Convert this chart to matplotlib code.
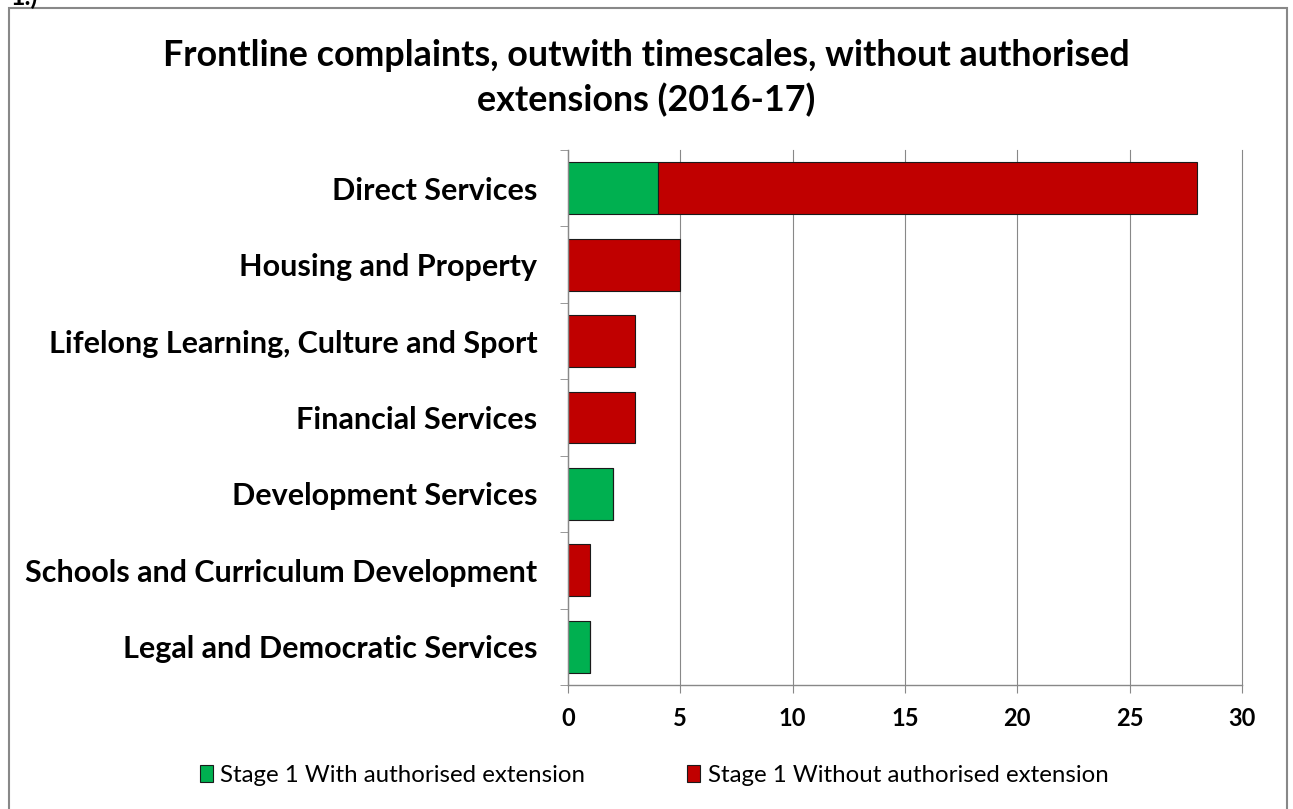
import matplotlib
matplotlib.use("Agg")
import matplotlib.pyplot as plt
from matplotlib.patches import Rectangle
import numpy as np

categories = ["Direct Services", "Housing and Property", "Lifelong Learning, Culture and Sport",
              "Financial Services", "Development Services", "Schools and Curriculum Development",
              "Legal and Democratic Services"]
with_ext = [4, 0, 0, 0, 2, 0, 1]
without_ext = [24, 5, 3, 3, 0, 1, 0]
series_names = ["Stage 1 With authorised extension", "Stage 1 Without authorised extension"]
xticks = [0, 5, 10, 15, 20, 25, 30]

plt.rcParams['font.family'] = ['Lato', 'DejaVu Sans']
green = "#00B050"
red = "#C00000"

fig = plt.figure(figsize=(12.93, 8.09), dpi=100)
fig.patches.append(Rectangle((9/1293, -0.01), 1278/1293, 1 - 8/809 + 0.01, transform=fig.transFigure,
                             fill=False, edgecolor="#888888", linewidth=1.5))
fig.text(0.008, 1.003, "1.)", fontsize=18, fontweight="bold", va="center", ha="left")

ax = fig.add_axes([568/1293, 1-685/809, (1242-568)/1293, (685-150)/809])
y = np.arange(len(categories))
h = 0.68
ax.barh(y, with_ext, height=h, color=green, edgecolor="#1a1a1a", linewidth=0.8, label=series_names[0])
ax.barh(y, without_ext, left=with_ext, height=h, color=red, edgecolor="#1a1a1a", linewidth=0.8, label=series_names[1])
ax.set_ylim(len(categories)-0.5, -0.5)
ax.set_xlim(0, 30)
ax.set_xticks(xticks)
ax.set_xticklabels([str(t) for t in xticks], fontsize=17, fontweight="bold")
ax.set_yticks(y)
ax.set_yticklabels(categories, fontsize=22, fontweight="bold")
ax.tick_params(axis="y", length=0, pad=22)
ax.set_yticks(np.arange(-0.5, len(categories)), minor=True)
ax.tick_params(axis="y", which="minor", length=6, color="#888888")
ax.tick_params(axis="x", length=6, color="#888888", pad=10)
ax.grid(axis="x", color="#888888", linewidth=0.8, clip_on=False)
ax.set_axisbelow(True)
for s in ["top", "right"]:
    ax.spines[s].set_visible(False)
for s in ["left", "bottom"]:
    ax.spines[s].set_color("#888888")
    ax.spines[s].set_linewidth(1.0)

fig.text(0.5, 1-55/809, "Frontline complaints, outwith timescales, without authorised", ha="center", va="center",
         fontsize=25.8, fontweight="bold")
fig.text(0.5, 1-100/809, "extensions (2016-17)", ha="center", va="center", fontsize=25.8, fontweight="bold")

leg = fig.legend(loc="center", bbox_to_anchor=(654/1293, 1-775/809), ncol=2, frameon=False, fontsize=17.3,
                 handlelength=0.55, handleheight=0.7, handletextpad=0.3, columnspacing=4.25)
fig.savefig("out.png", dpi=100)
